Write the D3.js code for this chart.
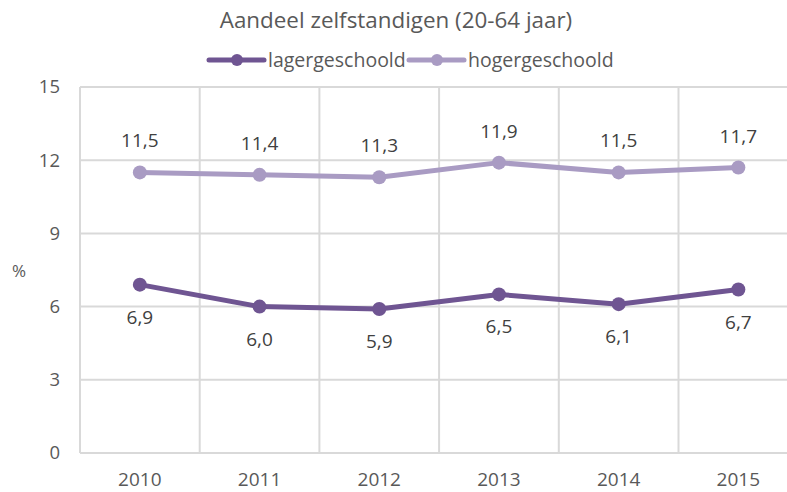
<!DOCTYPE html>
<html>
<head>
<meta charset="utf-8">
<script src="https://cdn.jsdelivr.net/npm/d3@7"></script>
<style>
  html, body { margin: 0; padding: 0; background: #fff; }
  svg { display: block; font-family: "Open Sans", sans-serif; }
</style>
</head>
<body>
<svg id="chart" width="787" height="492"></svg>
<script>
// Aandeel zelfstandigen naar opleidingsniveau
const years = ["2010", "2011", "2012", "2013", "2014", "2015"];
const lagergeschoold = [6.9, 6.0, 5.9, 6.5, 6.1, 6.7];
const hogergeschoold = [11.5, 11.4, 11.3, 11.9, 11.5, 11.7];
const yTicks = [0, 3, 6, 9, 12, 15];
const seriesNames = ["lagergeschoold", "hogergeschoold"];
const title = "Aandeel zelfstandigen (20-64 jaar)";

const colors = { lagergeschoold: "#6f5592", hogergeschoold: "#a99bc3" };
const textColor = "#595959";
const gridColor = "#d9d9d9";

const svg = d3.select("#chart");
const plot = { left: 80, top: 87, bottom: 453, bandW: 119.7 };

const x = d3.scaleBand()
  .domain(years)
  .range([plot.left, plot.left + plot.bandW * years.length])
  .padding(0);
const y = d3.scaleLinear().domain([0, 15]).range([plot.bottom, plot.top]);
const cx = d => x(d) + x.bandwidth() / 2;

// horizontal gridlines
svg.append("g").selectAll("line").data(yTicks).join("line")
  .attr("x1", plot.left).attr("x2", plot.left + plot.bandW * years.length)
  .attr("y1", d => y(d)).attr("y2", d => y(d))
  .attr("stroke", gridColor).attr("stroke-width", 2);

// vertical gridlines at category boundaries
const bounds = years.map(d => x(d)).concat([x(years[years.length - 1]) + x.bandwidth()]);
svg.append("g").selectAll("line").data(bounds).join("line")
  .attr("x1", d => d).attr("x2", d => d)
  .attr("y1", plot.top).attr("y2", plot.bottom)
  .attr("stroke", gridColor).attr("stroke-width", 2);

// y axis tick labels
const yAxis = svg.append("g")
  .attr("transform", `translate(${plot.left},0)`)
  .call(d3.axisLeft(y).tickValues(yTicks).tickSize(0).tickPadding(20));
yAxis.select(".domain").remove();
yAxis.selectAll("text")
  .attr("fill", textColor).attr("font-size", 18.5)
  .attr("font-family", "'Open Sans', sans-serif");

// x axis tick labels
const xAxis = svg.append("g")
  .attr("transform", `translate(0,${plot.bottom})`)
  .call(d3.axisBottom(x).tickSize(0).tickPadding(20));
xAxis.select(".domain").remove();
xAxis.selectAll("text")
  .attr("fill", textColor).attr("font-size", 19)
  .attr("font-family", "'Open Sans', sans-serif");

// y axis title
svg.append("text")
  .attr("x", 19).attr("y", 277)
  .attr("text-anchor", "middle")
  .attr("fill", textColor).attr("font-size", 17)
  .text("%");

// chart title
svg.append("text")
  .attr("x", 396).attr("y", 28)
  .attr("text-anchor", "middle")
  .attr("fill", textColor).attr("font-size", 22.4)
  .text(title);

const seriesData = { lagergeschoold, hogergeschoold };
const fmt = v => d3.format(".1f")(v).replace(".", ",");
const line = d3.line().x((d, i) => cx(years[i])).y(d => y(d));

seriesNames.forEach(name => {
  const vals = seriesData[name];
  const g = svg.append("g");
  g.append("path")
    .datum(vals)
    .attr("d", line)
    .attr("fill", "none")
    .attr("stroke", colors[name])
    .attr("stroke-width", 5)
    .attr("stroke-linejoin", "round");
  g.selectAll("circle").data(vals).join("circle")
    .attr("cx", (d, i) => cx(years[i]))
    .attr("cy", d => y(d))
    .attr("r", 7)
    .attr("fill", colors[name]);
  const dy = name === "hogergeschoold" ? -25 : 39;
  g.selectAll("text").data(vals).join("text")
    .attr("x", (d, i) => cx(years[i]))
    .attr("y", d => y(d) + dy)
    .attr("text-anchor", "middle")
    .attr("fill", "#404040")
    .attr("font-size", 19)
    .text(fmt);
});

// legend
const legendItems = [
  { name: "lagergeschoold", x0: 209 },
  { name: "hogergeschoold", x0: 409 }
];
const lg = svg.append("g");
legendItems.forEach(it => {
  const ly = 60;
  lg.append("line")
    .attr("x1", it.x0).attr("x2", it.x0 + 55)
    .attr("y1", ly).attr("y2", ly)
    .attr("stroke", colors[it.name]).attr("stroke-width", 5)
    .attr("stroke-linecap", "round");
  lg.append("circle")
    .attr("cx", it.x0 + 28).attr("cy", ly).attr("r", 6)
    .attr("fill", colors[it.name]);
  lg.append("text")
    .attr("x", it.x0 + 59).attr("y", ly + 7)
    .attr("fill", textColor).attr("font-size", 19.5)
    .text(it.name);
});
</script>
</body>
</html>
